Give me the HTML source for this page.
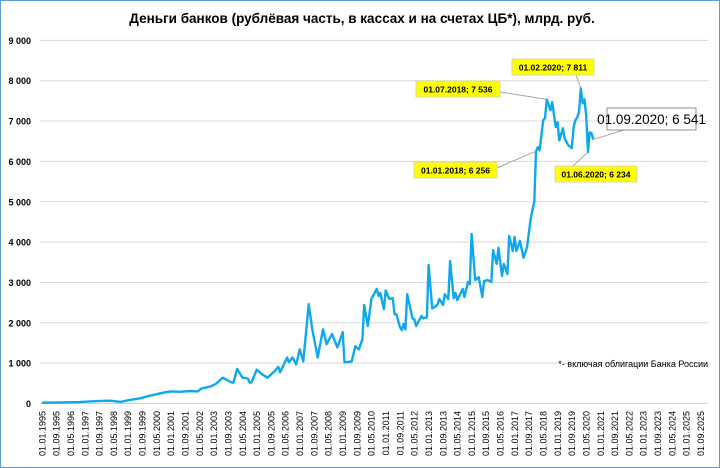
<!DOCTYPE html>
<html><head><meta charset="utf-8"><style>
html,body{margin:0;padding:0;background:#fff}
svg{display:block;font-family:"Liberation Sans",sans-serif}
</style></head><body>
<svg id="chart" width="720" height="468" viewBox="0 0 720 468">
<rect x="0.5" y="0.5" width="719" height="467" fill="#fff" stroke="#5b9bd5" stroke-width="1"/>
<text x="362" y="23" text-anchor="middle" font-size="13.5" font-weight="bold" fill="#000">Деньги банков (рублёвая часть, в кассах и на счетах ЦБ*), млрд. руб.</text>
<g id="grid"></g><g id="yticks"></g><g id="xticks"></g>
<path id="series" fill="none" stroke="#10a8ec" stroke-width="2.4" stroke-linejoin="round"/>
<g id="ann"></g>
<text x="708" y="367" text-anchor="end" font-size="9" fill="#000">*- включая облигации Банка России</text>
</svg>
<script>
const dates=["1995-01","1995-11","1996-10","1997-08","1998-03","1998-09","1999-02","1999-08","2000-01","2000-09","2001-01","2001-06","2001-12","2002-04","2002-06","2002-11","2003-02","2003-06","2003-11","2003-12","2004-02","2004-05","2004-08","2004-09","2004-10","2005-01","2005-04","2005-07","2005-09","2005-11","2006-01","2006-02","2006-06","2006-07","2006-09","2006-11","2007-01","2007-03","2007-06","2007-08","2007-11","2008-02","2008-04","2008-07","2008-10","2009-01","2009-02","2009-06","2009-08","2009-10","2009-12","2010-01","2010-03","2010-05","2010-08","2010-09","2010-10","2010-12","2011-01","2011-03","2011-05","2011-06","2011-07","2011-09","2011-10","2011-11","2011-12","2012-01","2012-04","2012-05","2012-06","2012-09","2012-10","2012-12","2013-01","2013-03","2013-05","2013-06","2013-07","2013-09","2013-10","2013-12","2014-01","2014-03","2014-04","2014-05","2014-08","2014-09","2014-11","2014-12","2015-01","2015-03","2015-05","2015-07","2015-08","2015-10","2015-12","2016-01","2016-03","2016-04","2016-06","2016-07","2016-09","2016-10","2016-12","2017-01","2017-02","2017-04","2017-06","2017-08","2017-10","2017-11","2017-12","2018-01","2018-02","2018-03","2018-05","2018-06","2018-07","2018-09","2018-10","2018-12","2019-01","2019-02","2019-04","2019-05","2019-07","2019-09","2019-10","2019-11","2019-12","2020-01","2020-02","2020-03","2020-04","2020-05","2020-06","2020-07","2020-08","2020-09"];
const values=[20,25,35,60,70,40,90,130,190,270,300,290,310,300,370,420,480,640,520,520,860,640,620,520,520,840,720,640,720,800,910,770,1140,1020,1140,970,1340,1040,2460,1840,1140,1840,1470,1720,1390,1770,1020,1040,1420,1340,1590,2440,1920,2590,2840,2670,2740,2340,2800,2590,2610,2210,2210,1890,1820,1970,1840,2710,2110,2090,1920,2170,2110,2140,3430,2360,2410,2460,2590,2440,2710,2590,3530,2610,2740,2560,2840,2640,3010,2960,4200,3060,3130,2640,3030,3060,3010,3800,3460,3860,3160,3460,3210,4150,3780,4130,3780,4030,3610,3880,4580,4800,5000,6256,6350,6280,7020,7070,7536,7270,7470,6850,6970,6520,6820,6570,6400,6330,6850,7020,7090,7220,7811,7440,7540,7140,6234,6720,6700,6541];
const yTicks=[0,1000,2000,3000,4000,5000,6000,7000,8000,9000];
const yTickLabels=["0","1 000","2 000","3 000","4 000","5 000","6 000","7 000","8 000","9 000"];
const annDates=["2018-07","2020-02","2018-01","2020-06","2020-09"];
const annLabels=["01.07.2018;  7 536","01.02.2020;  7 811","01.01.2018;  6 256","01.06.2020;  6 234","01.09.2020;  6 541"];
const annValues=[7536,7811,6256,6234,6541];

const NS="http://www.w3.org/2000/svg";
const X0=42,PXM=1.79,Y0=403.5,PXV=0.04035;
function mIdx(d){const p=d.split("-");return (+p[0]-1995)*12+(+p[1]-1);}
function xS(d){return X0+mIdx(d)*PXM;}
function yS(v){return Y0-v*PXV;}
function mk(t,a,parent){const e=document.createElementNS(NS,t);for(const k in a)e.setAttribute(k,a[k]);parent.appendChild(e);return e;}

const grid=document.getElementById("grid"),yt=document.getElementById("yticks"),xt=document.getElementById("xticks");
yTicks.forEach((v,i)=>{
  const y=yS(v);
  const l=mk("line",{x1:40,x2:708,y1:y,y2:y,stroke:v===0?"#d0d0d0":"#d9d9d9","stroke-width":1},grid);
  
  
  const t=mk("text",{x:31,y:y+3.5,"text-anchor":"end","font-size":"9","font-weight":"bold",fill:"#000"},yt);
  t.textContent=yTickLabels[i];
  
  
});
for(let m=0;m<=368;m+=8){
  const yr=1995+Math.floor(m/12),mo=m%12+1;
  const lab="01."+(mo<10?"0":"")+mo+"."+yr;
  const x=X0+m*PXM;
  const t=mk("text",{transform:"translate("+(x+3.3)+",411) rotate(-90)","text-anchor":"end","font-size":"9",fill:"#000"},xt);
  t.textContent=lab;
  
  
}
let d="";
dates.forEach((dt,i)=>{d+=(i?"L":"M")+xS(dt).toFixed(1)+","+yS(values[i]).toFixed(1);});
document.getElementById("series").setAttribute("d",d);

const ann=document.getElementById("ann");
const boxes=[[416,81,84,16],[512,59,82,16],[414,162,83,16],[555,166,82,16],[607,108,89,22]];
const anchors=[[500,92],[576,75],[497,168],[573,166],[640,125]];
annDates.forEach((dt,i)=>{
  const px=xS(dt),py=yS(annValues[i]);
  const b=boxes[i],a=anchors[i];
  const ln=mk("line",{x1:a[0],y1:a[1],x2:px,y2:py,stroke:"#a6a6a6","stroke-width":1},ann);
  
  
  const last=i===4;
  const r=mk("rect",{x:b[0],y:b[1],width:b[2],height:b[3],fill:last?"#fff":"#ffff00",stroke:last?"#8c8c8c":"#d9d9a0","stroke-width":1},ann);
  
  
  const t=mk("text",{x:b[0]+b[2]/2,y:b[1]+(last?16:11.5),"text-anchor":"middle","font-size":last?"13.5":"8.5","font-weight":last?"normal":"bold",fill:"#000","xml:space":"preserve"},ann);
  t.textContent=annLabels[i];
  
  
});
</script>
</body></html>
